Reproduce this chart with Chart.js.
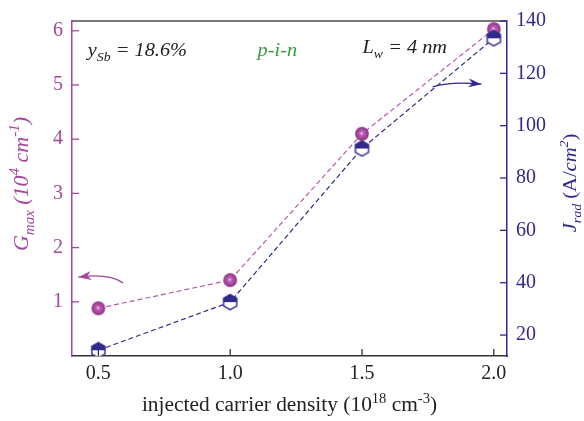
<!DOCTYPE html>
<html>
<head>
<meta charset="utf-8">
<script src="https://cdn.jsdelivr.net/npm/chart.js@4.4.1/dist/chart.umd.min.js"></script>
<style>
html,body{margin:0;padding:0;background:#fff;}
canvas{display:block;}
</style>
</head>
<body>
<canvas id="c" width="584" height="421"></canvas>
<script>
// ---- data ----
const carrierDensity = [0.5, 1.0, 1.5, 2.0];
const gmaxValues = [0.88, 1.40, 4.10, 6.03];
const jradValues = [14.2, 32.6, 91.3, 133.4];
const xTickValues = [0.5, 1.0, 1.5, 2.0];
const leftTickValues = [1, 2, 3, 4, 5, 6];
const rightTickValues = [20, 40, 60, 80, 100, 120, 140];

const PURPLE = '#a5469d';
const PURPLE_LINE = '#b45cab';
const BLUE = '#2f2a8c';
const GREEN = '#3a9a3c';
const FONT = '"Liberation Serif", "Times New Roman", serif';

// ---- marker images ----
function makeSphere() {
  const c = document.createElement('canvas');
  c.width = 16; c.height = 16;
  const g = c.getContext('2d');
  const cx = 8, cy = 8, r = 6.9;
  const grd = g.createRadialGradient(cx - 0.5, cy - 0.5, 0.3, cx, cy, r);
  grd.addColorStop(0, '#f4dcef');
  grd.addColorStop(0.18, '#c46bbb');
  grd.addColorStop(0.6, '#a8479f');
  grd.addColorStop(1, '#8d3586');
  g.fillStyle = grd;
  g.beginPath(); g.arc(cx, cy, r, 0, Math.PI * 2); g.fill();
  return c;
}
function makeHex() {
  const c = document.createElement('canvas');
  c.width = 17; c.height = 18;
  const g = c.getContext('2d');
  const cx = 8.5, cy = 9, r = 7.6;
  const pts = [];
  for (let i = 0; i < 6; i++) {
    const a = -Math.PI / 2 + i * Math.PI / 3;
    pts.push([cx + r * Math.cos(a), cy + r * Math.sin(a)]);
  }
  g.beginPath();
  pts.forEach((p, i) => i ? g.lineTo(p[0], p[1]) : g.moveTo(p[0], p[1]));
  g.closePath();
  g.fillStyle = '#fff'; g.fill();
  const hw = r * Math.cos(Math.PI / 6);
  g.beginPath();
  g.moveTo(cx - hw, cy);
  g.lineTo(cx - hw, cy - r / 2);
  g.lineTo(cx, cy - r);
  g.lineTo(cx + hw, cy - r / 2);
  g.lineTo(cx + hw, cy);
  g.closePath();
  g.fillStyle = BLUE; g.fill();
  g.beginPath();
  pts.forEach((p, i) => i ? g.lineTo(p[0], p[1]) : g.moveTo(p[0], p[1]));
  g.closePath();
  g.strokeStyle = BLUE; g.lineWidth = 1.4; g.stroke();
  return c;
}
const sphereImg = makeSphere();
const hexImg = makeHex();

// ---- rich text helper ----
function fontFor(p, size) {
  const s = (p.sub || p.sup) ? size * 0.68 : size;
  return (p.it ? 'italic ' : '') + s + 'px ' + FONT;
}
function richWidth(ctx, parts, size) {
  let w = 0;
  parts.forEach(p => { ctx.font = fontFor(p, size); w += ctx.measureText(p.t).width; });
  return w;
}
function drawRich(ctx, parts, x, y, align, color, size, hs) {
  hs = hs || 1;
  const w = richWidth(ctx, parts, size) * hs;
  const sx = align === 'center' ? x - w / 2 : x;
  ctx.save();
  ctx.translate(sx, y);
  ctx.scale(hs, 1);
  ctx.fillStyle = color;
  ctx.textBaseline = 'alphabetic';
  ctx.textAlign = 'left';
  let cx = 0;
  parts.forEach(p => {
    ctx.font = fontFor(p, size);
    const dy = p.sub ? size * 0.28 : (p.sup ? -size * 0.42 : 0);
    ctx.fillText(p.t, cx, dy);
    cx += ctx.measureText(p.t).width;
  });
  ctx.restore();
}

// annotation anchors in data units (x, left-axis y)
const annotations = [
  { x: 0.46, y: 5.54, color: '#222', parts: [{t:'y', it:1}, {t:'Sb', it:1, sub:1}, {t:' = 18.6%', it:1}] },
  { x: 1.104, y: 5.54, color: GREEN, parts: [{t:'p-i-n', it:1}] },
  { x: 1.502, y: 5.59, color: '#222', parts: [{t:'L', it:1}, {t:'w', it:1, sub:1}, {t:' = 4 nm', it:1}] }
];
const arrows = [
  { color: PURPLE, p0: [0.594, 1.349], c: [0.54, 1.53], p1: [0.424, 1.455] },
  { color: BLUE, p0: [1.768, 4.966], c: [1.84, 5.07], p1: [1.953, 5.014] }
];

function drawArrow(ctx, a, xs, ys) {
  const P = v => [xs.getPixelForValue(v[0]), ys.getPixelForValue(v[1])];
  const p0 = P(a.p0), c = P(a.c), p1 = P(a.p1);
  ctx.save();
  ctx.strokeStyle = a.color; ctx.fillStyle = a.color; ctx.lineWidth = 1.3;
  ctx.beginPath(); ctx.moveTo(p0[0], p0[1]); ctx.quadraticCurveTo(c[0], c[1], p1[0], p1[1]); ctx.stroke();
  const ang = Math.atan2(p1[1] - c[1], p1[0] - c[0]);
  const L = 13, W = 4.5;
  ctx.translate(p1[0], p1[1]); ctx.rotate(ang);
  ctx.beginPath();
  ctx.moveTo(0, 0);
  ctx.lineTo(-L, -W);
  ctx.lineTo(-L * 0.7, 0);
  ctx.lineTo(-L, W);
  ctx.closePath();
  ctx.fill();
  ctx.restore();
}

const decorPlugin = {
  id: 'decor',
  afterDraw(chart) {
    const ctx = chart.ctx;
    const a = chart.chartArea;
    const xs = chart.scales.x, yl = chart.scales.yL, yr = chart.scales.yR;
    ctx.save();
    ctx.strokeStyle = '#4a4a4a'; ctx.lineWidth = 1.5;
    ctx.beginPath(); ctx.moveTo(a.left, a.top); ctx.lineTo(a.right, a.top); ctx.stroke();
    const TL = 7;
    ctx.lineWidth = 1.3;
    ctx.strokeStyle = '#333';
    xTickValues.forEach(v => {
      const px = xs.getPixelForValue(v);
      ctx.beginPath(); ctx.moveTo(px, a.bottom); ctx.lineTo(px, a.bottom - TL); ctx.stroke();
    });
    ctx.strokeStyle = PURPLE;
    leftTickValues.forEach(v => {
      const py = yl.getPixelForValue(v);
      ctx.beginPath(); ctx.moveTo(a.left, py); ctx.lineTo(a.left + TL, py); ctx.stroke();
    });
    ctx.strokeStyle = BLUE;
    rightTickValues.forEach(v => {
      const py = yr.getPixelForValue(v);
      ctx.beginPath(); ctx.moveTo(a.right, py); ctx.lineTo(a.right - TL, py); ctx.stroke();
    });
    // x title
    drawRich(ctx, [{t:'injected carrier density (10'}, {t:'18', sup:1}, {t:' cm'}, {t:'-3', sup:1}, {t:')'}],
      (a.left + a.right) / 2, 411, 'center', '#222', 20, 1.07);
    // left title
    ctx.save();
    ctx.translate(28, 184); ctx.rotate(-Math.PI / 2);
    drawRich(ctx, [{t:'G', it:1}, {t:'max', it:1, sub:1}, {t:' (10', it:1}, {t:'4', it:1, sup:1}, {t:' cm', it:1}, {t:'-1', it:1, sup:1}, {t:')', it:1}],
      0, 0, 'center', PURPLE, 22, 1);
    ctx.restore();
    // right title
    ctx.save();
    ctx.translate(576, 183); ctx.rotate(-Math.PI / 2);
    drawRich(ctx, [{t:'J', it:1}, {t:'rad', it:1, sub:1}, {t:' (A/'}, {t:'cm', it:1}, {t:'2', it:1, sup:1}, {t:')'}],
      0, 0, 'center', BLUE, 19, 1.08);
    ctx.restore();
    annotations.forEach(n => {
      drawRich(ctx, n.parts, xs.getPixelForValue(n.x), yl.getPixelForValue(n.y), 'left', n.color, 19, 1.07);
    });
    arrows.forEach(ar => drawArrow(ctx, ar, xs, yl));
    ctx.restore();
  }
};

const toPoints = (xsArr, ysArr) => xsArr.map((x, i) => ({ x: x, y: ysArr[i] }));

new Chart(document.getElementById('c'), {
  type: 'scatter',
  data: {
    datasets: [
      {
        label: 'Jrad',
        data: toPoints(carrierDensity, jradValues),
        yAxisID: 'yR',
        showLine: true,
        borderColor: BLUE,
        borderWidth: 1.2,
        borderDash: [5, 3],
        pointStyle: hexImg,
        order: 0
      },
      {
        label: 'Gmax',
        data: toPoints(carrierDensity, gmaxValues),
        yAxisID: 'yL',
        showLine: true,
        borderColor: PURPLE_LINE,
        borderWidth: 1.2,
        borderDash: [5, 3],
        pointStyle: sphereImg,
        order: 1
      }
    ]
  },
  options: {
    responsive: false,
    animation: false,
    events: [],
    layout: { padding: { top: 14, left: 0, right: 0, bottom: 0 } },
    plugins: { legend: { display: false }, tooltip: { enabled: false } },
    scales: {
      x: {
        type: 'linear', position: 'bottom', min: 0.4, max: 2.05,
        afterBuildTicks: s => { s.ticks = xTickValues.map(v => ({ value: v })); },
        afterFit: s => { s.height = 65; },
        grid: { display: false, drawTicks: false },
        border: { display: true, color: '#333', width: 1.5 },
        ticks: { padding: 6, color: '#222', font: { family: FONT, size: 20 }, callback: v => Number(v).toFixed(1), maxRotation: 0 }
      },
      yL: {
        type: 'linear', position: 'left', min: 0, max: 6.18,
        afterBuildTicks: s => { s.ticks = leftTickValues.map(v => ({ value: v })); },
        afterFit: s => { s.width = 72; },
        grid: { display: false, drawTicks: false },
        border: { display: true, color: PURPLE, width: 1.5 },
        ticks: { padding: 9, color: PURPLE, font: { family: FONT, size: 20 } }
      },
      yR: {
        type: 'linear', position: 'right', min: 12, max: 140,
        afterBuildTicks: s => { s.ticks = rightTickValues.map(v => ({ value: v })); },
        afterFit: s => { s.width = 77; },
        grid: { display: false, drawTicks: false },
        border: { display: true, color: BLUE, width: 1.5 },
        ticks: { padding: 9, color: BLUE, font: { family: FONT, size: 20 } }
      }
    }
  },
  plugins: [decorPlugin]
});
</script>
</body>
</html>
